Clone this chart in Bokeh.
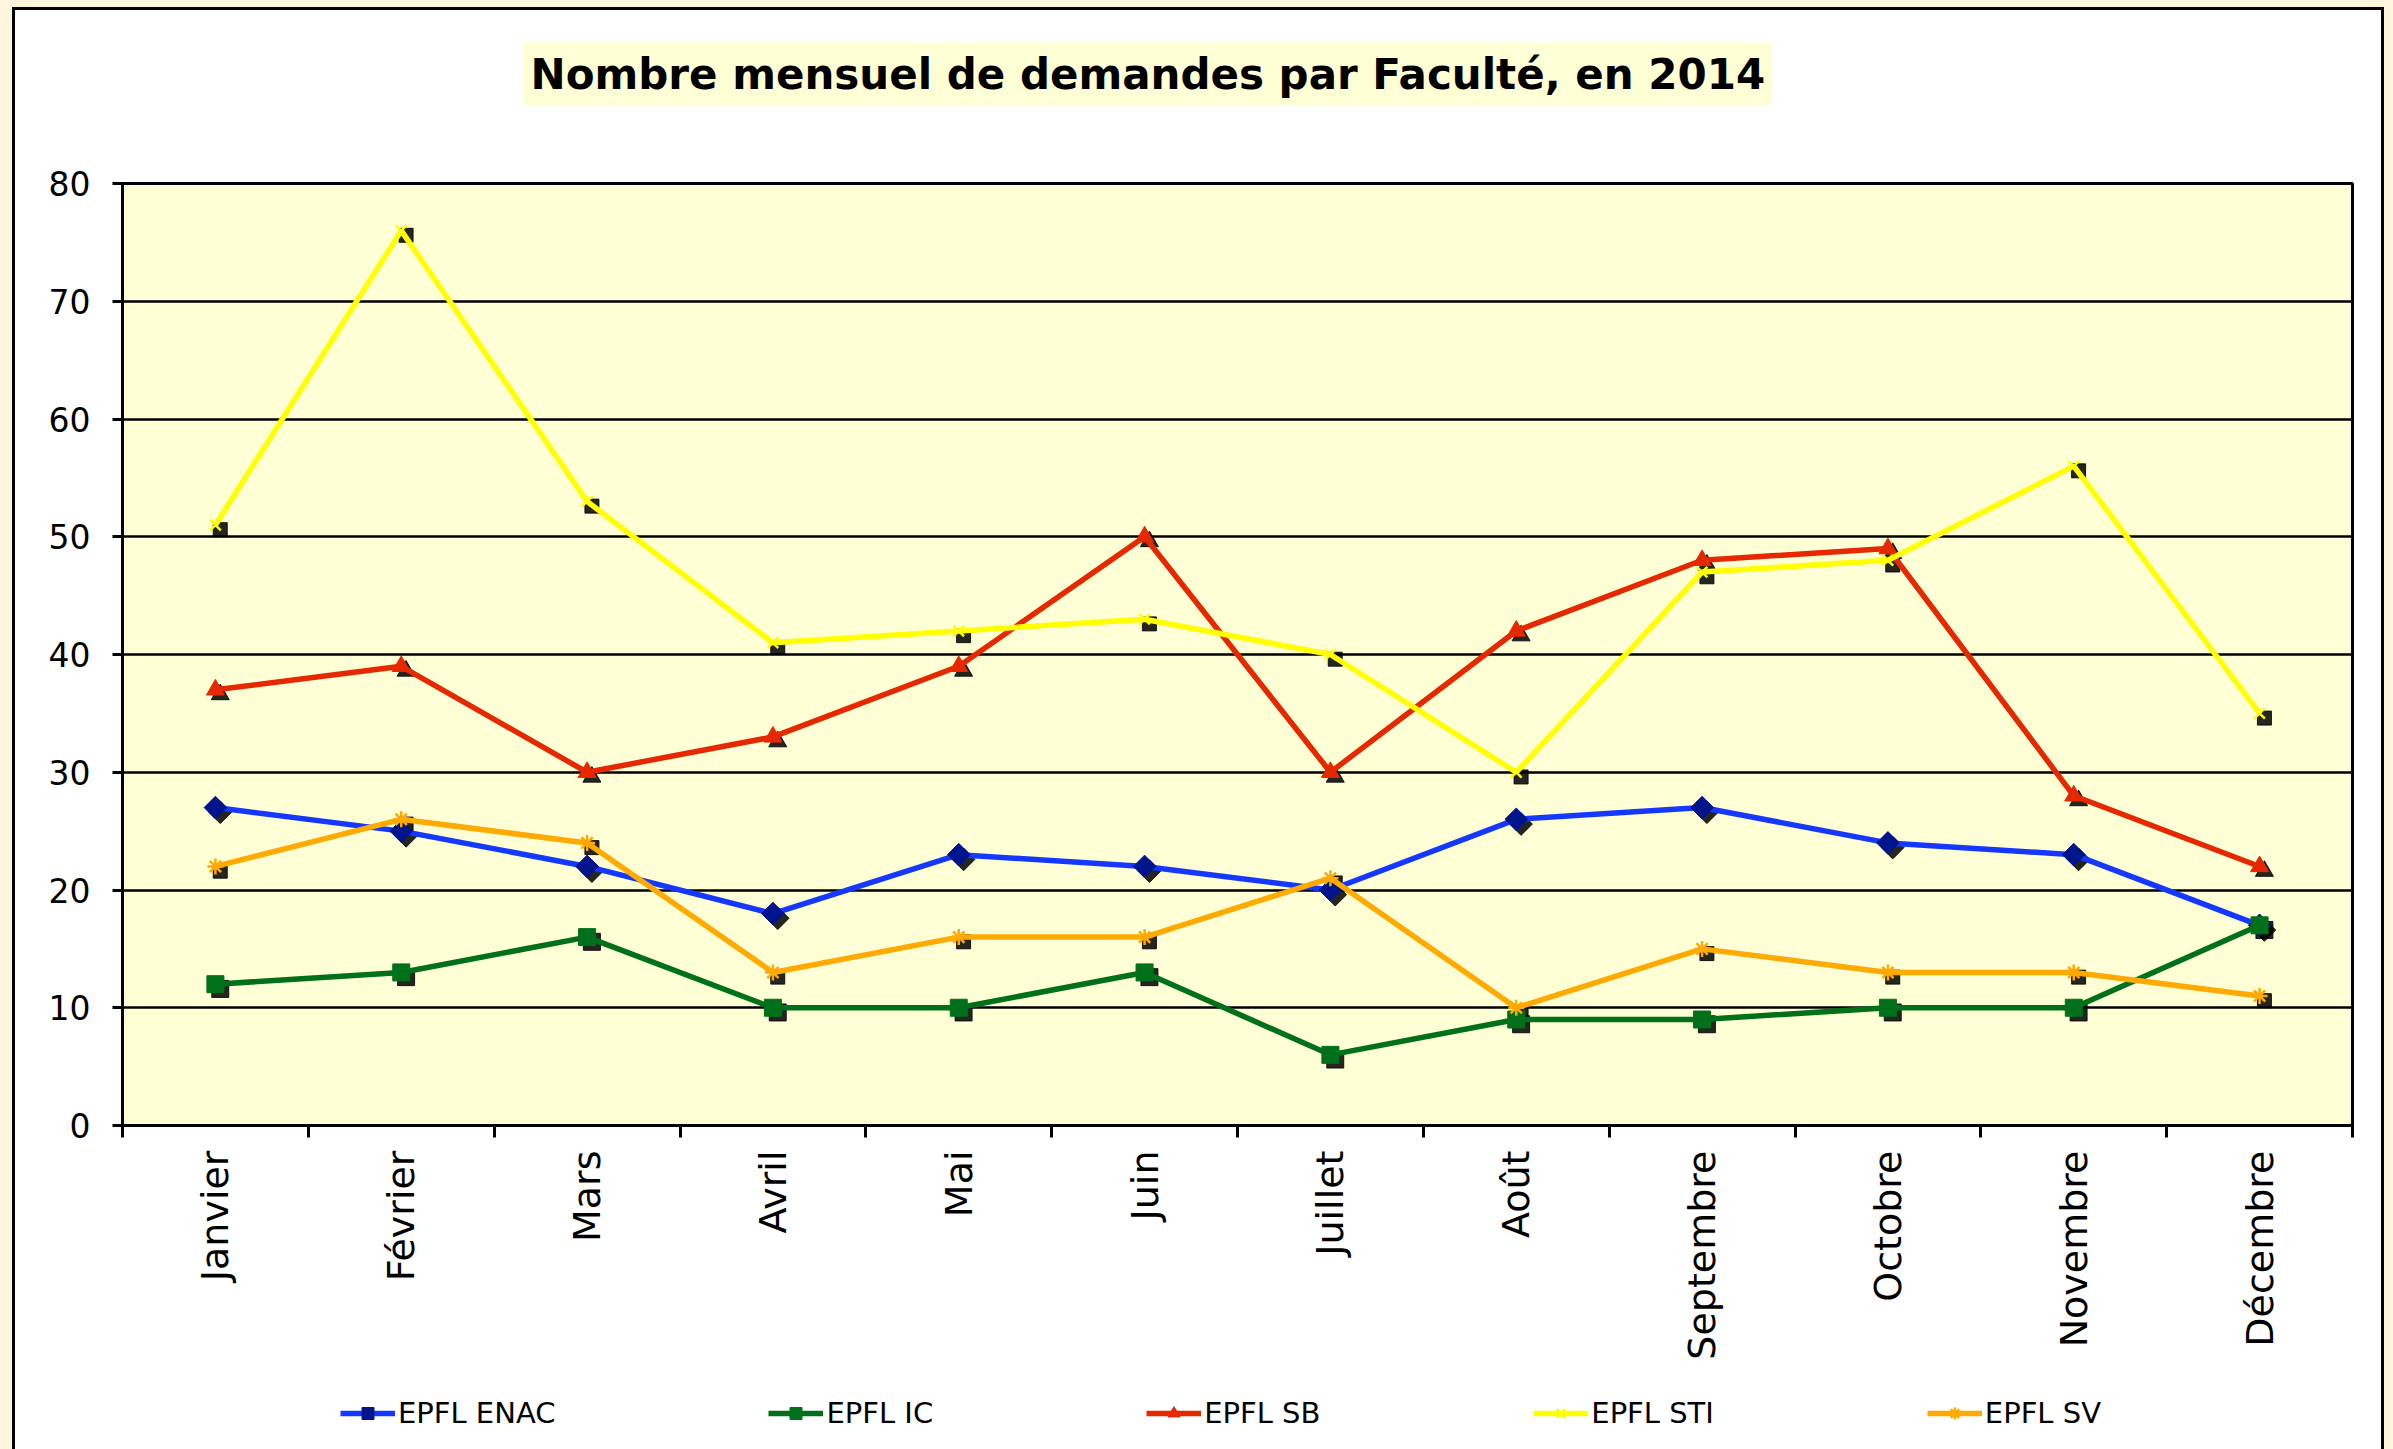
import math
from bokeh.plotting import figure
from bokeh.layouts import column
from bokeh.models import (Range1d, FixedTicker, Legend, LegendItem, Title)
from bokeh.transform import dodge
from bokeh.embed import file_html
from bokeh.resources import INLINE

title_text = "Nombre mensuel de demandes par Faculté, en 2014"
months = ["Janvier", "Février", "Mars", "Avril", "Mai", "Juin", "Juillet",
          "Août", "Septembre", "Octobre", "Novembre", "Décembre"]
series_names = ["EPFL ENAC", "EPFL IC", "EPFL SB", "EPFL STI", "EPFL SV"]
enac = [27, 25, 22, 18, 23, 22, 20, 26, 27, 24, 23, 17]
ic = [12, 13, 16, 10, 10, 13, 6, 9, 9, 10, 10, 17]
sb = [37, 39, 30, 33, 39, 50, 30, 42, 48, 49, 28, 22]
sti = [51, 76, 53, 41, 42, 43, 40, 30, 47, 48, 56, 35]
sv = [22, 26, 24, 13, 16, 16, 21, 10, 15, 13, 13, 11]
y_ticks = [0, 10, 20, 30, 40, 50, 60, 70, 80]

xs = [i + 0.5 for i in range(len(months))]

CREAM = "#fff5dc"
W, H = 2393, 1449
FL, FR, FT, FB = 122, 2352, 183, 1125   # frame edges in canvas pixels
MAIN_H = 1380

fig = figure(frame_width=FR - FL, frame_height=FB - FT, output_backend="svg",
             toolbar_location=None,
             x_range=Range1d(0, len(months)), y_range=Range1d(y_ticks[0], y_ticks[-1]),
             min_border_left=FL, min_border_right=W - FR, min_border_top=FT,
             min_border_bottom=MAIN_H - FB)
fig.border_fill_color = None
fig.background_fill_color = "#ffffd5"
fig.outline_line_color = "black"
fig.outline_line_width = 3

# spacer between frame and title (nearest the frame)
spacer = Title(text=" ", text_font_size="10px", standoff=65)
fig.add_layout(spacer, "above")

# title
fig.title.text = title_text
fig.title.align = "left"
fig.title.offset = 523 - FL
fig.title.vertical_align = "bottom"
fig.title.standoff = 0
fig.title.text_font = "DejaVu Sans"
fig.title.text_font_style = "bold"
fig.title.text_font_size = "42px"
fig.title.text_color = "black"
fig.title.background_fill_color = "#ffffd5"
fig.title.padding = 7

# axes
xa = fig.xaxis[0]
xa.ticker = FixedTicker(ticks=xs, minor_ticks=list(range(len(months) + 1)))
xa.major_label_overrides = {x: m for x, m in zip(xs, months)}
xa.major_label_orientation = math.pi / 2
xa.major_tick_line_color = None
xa.major_tick_out = 12
xa.major_tick_in = 0
xa.minor_tick_line_color = "black"
xa.minor_tick_line_width = 3
xa.minor_tick_out = 12
xa.minor_tick_in = 0
xa.major_label_standoff = 13
xa.major_label_text_font = "DejaVu Sans"
xa.major_label_text_font_size = "38px"
xa.major_label_text_color = "black"
xa.axis_line_width = 3
xa.axis_line_color = "black"

ya = fig.yaxis[0]
ya.ticker = FixedTicker(ticks=y_ticks)
ya.minor_tick_line_color = None
ya.major_tick_line_color = "black"
ya.major_tick_line_width = 3
ya.major_tick_out = 10
ya.major_tick_in = 0
ya.major_label_standoff = 22
ya.major_label_text_font = "DejaVu Sans"
ya.major_label_text_font_size = "33px"
ya.major_label_text_color = "black"
ya.axis_line_width = 3
ya.axis_line_color = "black"

fig.xgrid.grid_line_color = None
fig.ygrid.grid_line_color = "black"
fig.ygrid.grid_line_width = 2.5

# series
line_colors = ["#1438ff", "#00701a", "#e62800", "#ffff00", "#ffaa00"]
marker_fill = ["#00148c", "#00701a", "#e62800", "#ffff00", "#ffaa00"]
markers = ["square", "square", "triangle", "x", "asterisk"]
marker_angles = [math.pi / 4, 0, 0, 0, 0]
shadow_markers = ["square", "square", "triangle", "square", "square"]
marker_sizes = [16, 17, 18, 15, 16]
shadow_sizes = [16, 17, 18, 14, 14]
data = [enac, ic, sb, sti, sv]

source_list = [dict(x=xs, y=vals) for vals in data]


def draw_series(target, i, d):
    ln = target.line(x="x", y="y", source=d, line_color=line_colors[i], line_width=5.5)
    if markers[i] in ("x", "asterisk"):
        mk = target.scatter(x="x", y="y", source=d, marker=markers[i], size=marker_sizes[i],
                            line_color=marker_fill[i], line_width=2.5)
    else:
        mk = target.scatter(x="x", y="y", source=d, marker=markers[i], size=marker_sizes[i],
                            angle=marker_angles[i],
                            fill_color=marker_fill[i], line_color=marker_fill[i])
    return ln, mk


# drop shadows of the markers
for i, d in enumerate(source_list):
    fig.scatter(x=dodge("x", 0.026), y=dodge("y", -0.4), source=d,
                marker=shadow_markers[i], size=shadow_sizes[i], angle=marker_angles[i],
                fill_color="black", line_color="black", fill_alpha=0.85, line_alpha=0.85)

for i, d in enumerate(source_list):
    draw_series(fig, i, d)

# legend strip under the chart (its frame is aligned with the chart frame);
# the legend renderers carry the same series, outside this strip's visible range
LEG_H = H - MAIN_H
leg = figure(width=W, height=LEG_H, output_backend="svg", toolbar_location=None,
             x_axis_type=None, y_axis_type=None, min_border=0,
             x_range=Range1d(0, len(months)), y_range=Range1d(-2, -1))
leg.border_fill_color = None
leg.background_fill_color = None
leg.outline_line_color = None
leg.xgrid.visible = False
leg.ygrid.visible = False
items = []
for i, d in enumerate(source_list):
    ln, mk = draw_series(leg, i, d)
    items.append(LegendItem(label=series_names[i], renderers=[ln, mk]))
legend = Legend(items=items, orientation="horizontal",
                location=(340 - FL, H - 1430),
                spacing=213, glyph_width=55, glyph_height=30, label_standoff=3,
                label_text_font="DejaVu Sans", label_text_font_size="29px",
                label_text_color="black", label_height=30,
                border_line_color=None, background_fill_alpha=0,
                padding=0, margin=0)
leg.add_layout(legend)

p = column(fig, leg, spacing=0)
p.styles = {
    "background-color": "white",
    "box-shadow": ", ".join([
        "inset 0 7px 0 0 " + CREAM,
        "inset 12px 0 0 0 " + CREAM,
        "inset -9px 0 0 0 " + CREAM,
        "inset 0 10px 0 0 #000",
        "inset 15px 0 0 0 #000",
        "inset -12px 0 0 0 #000",
    ]),
}

open("out.html", "w").write(file_html(p, INLINE))
